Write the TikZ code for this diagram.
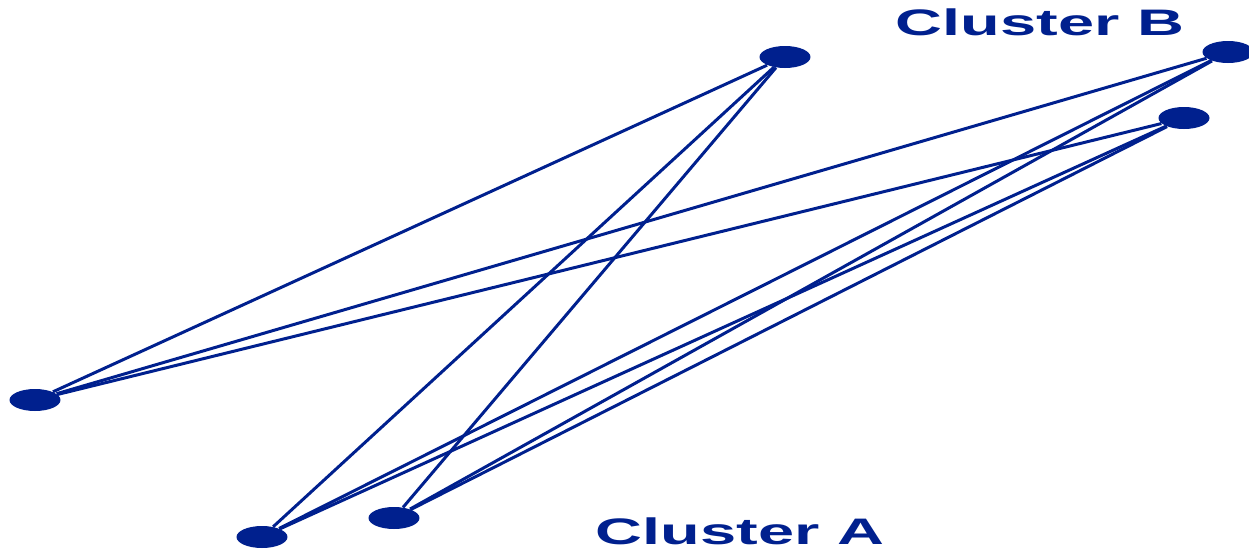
\documentclass[tikz,border=0pt]{standalone}
\usepackage{fontspec}
\setmainfont{Liberation Sans}
\usepackage{xcolor}
\usepackage{tikz}
\usetikzlibrary{shapes.geometric}

\definecolor{clnavy}{RGB}{0,32,142}

\begin{document}
\begin{tikzpicture}[
  x=0.02cm, y=-0.02cm,
  vtx/.style={ellipse,fill=clnavy,draw=none,minimum width=1.02cm,minimum height=0.44cm,inner sep=0pt},
  link/.style={draw=clnavy,line width=1.7pt},
  clbl/.style={text=clnavy,font=\fontsize{21}{22}\selectfont\bfseries,inner sep=0pt}
]
\useasboundingbox (0,0) rectangle (1249,552);

% ===================== cluster B (top) =====================
\node[vtx] (top) at (785,57) {};
\node[vtx] (tr)  at (1228,52) {};
\node[vtx] (rt)  at (1184,118) {};
\node[vtx] (lft) at (35,400) {};

% ===================== cluster A (bottom) =====================
\node[vtx] (bl)  at (262,537) {};
\node[vtx] (bm)  at (394,518) {};

% ===================== labels =====================
\node[clbl] (lblB) at (1040,22) {\scalebox{1.76}[1]{Cluster B}};
\node[clbl] (lblA) at (740,531) {\scalebox{1.76}[1]{Cluster A}};

% ===================== edges =====================
\draw[link] (lft) -- (top);
\draw[link] (lft) -- (tr);
\draw[link] (lft) -- (rt);
\draw[link] (top) -- (bl);
\draw[link] (top) -- (bm);
\draw[link] (tr) -- (bl);
\draw[link] (tr) -- (bm);
\draw[link] (rt) -- (bl);
\draw[link] (rt) -- (bm);

\end{tikzpicture}
\end{document}
